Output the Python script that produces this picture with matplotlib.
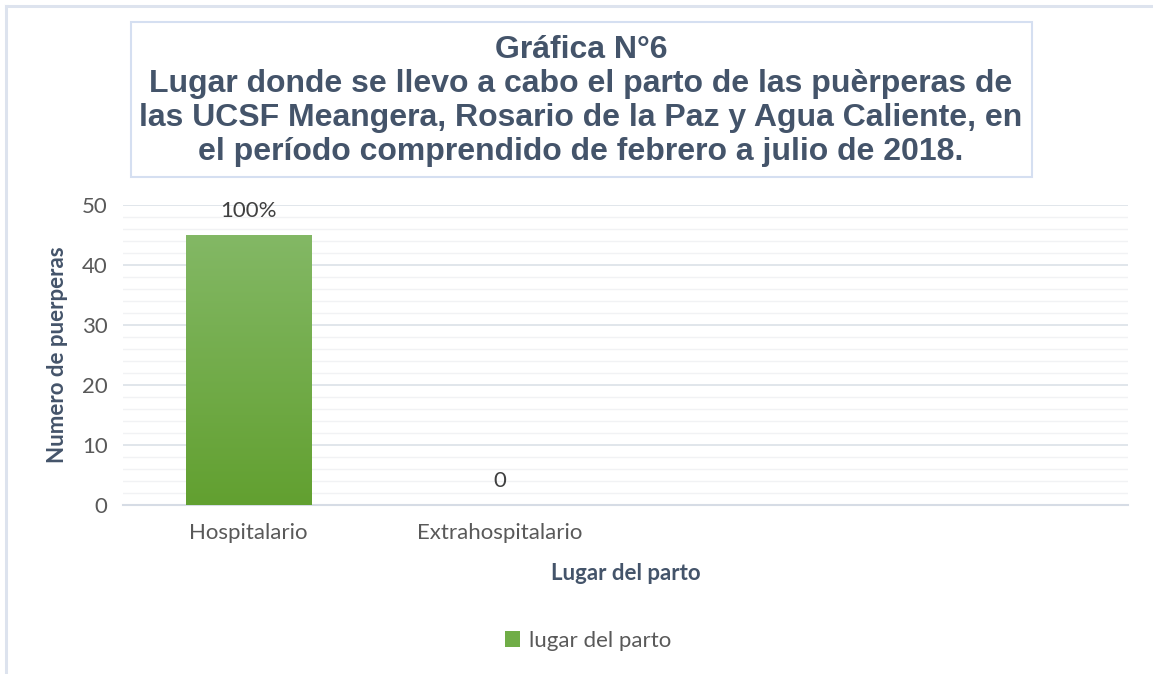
import matplotlib
matplotlib.use("Agg")
import matplotlib.pyplot as plt
from matplotlib.patches import Rectangle, Patch
from matplotlib.lines import Line2D
import numpy as np

# Data
categories = ["Hospitalario", "Extrahospitalario"]
values = [45, 0]
bar_labels = ["100%", "0"]
n_slots = 4
yticks = [0, 10, 20, 30, 40, 50]

title_text = ("Gráfica N°6\n"
              "Lugar donde se llevo a cabo el parto de las puèrperas de\n"
              "las UCSF Meangera, Rosario de la Paz y Agua Caliente, en\n"
              "el período comprendido de febrero a julio de 2018.")

W, H = 1153, 674
fig = plt.figure(figsize=(W / 100, H / 100), dpi=100)
font = "Lato"
fs = 16

# outer frame (top and left edges visible)
fig.add_artist(Line2D([6 / W, 1], [1 - 6 / H, 1 - 6 / H], color="#DDE3EE", lw=2.2))
fig.add_artist(Line2D([6 / W, 6 / W], [0, 1 - 6 / H], color="#DDE3EE", lw=2.2))

# title box
fig.add_artist(Rectangle((131 / W, 1 - 177 / H), (1032 - 131) / W, (177 - 22) / H,
                         transform=fig.transFigure, fill=False,
                         edgecolor="#D5DFF1", lw=1.5))
fig.text(581 / W, 1 - 101 / H, title_text, ha="center", va="center",
         family="Liberation Sans", fontweight="bold", fontsize=23.0,
         color="#44546A", linespacing=1.16)

ax = fig.add_axes([123 / W, 169 / H, (1128 - 123) / W, 300 / H])
x = np.arange(len(categories))
bars = ax.bar(x, values, width=0.5, color="#70AD47", zorder=3)

# vertical gradient on bars
grad = np.linspace(0, 1, 256).reshape(-1, 1)
cmap = matplotlib.colors.LinearSegmentedColormap.from_list("g", ["#62A030", "#83B865"])
for b in bars:
    if b.get_height() <= 0:
        continue
    im = ax.imshow(grad, cmap=cmap, origin="lower", aspect="auto", zorder=4,
                   extent=[b.get_x(), b.get_x() + b.get_width(), 0, b.get_height()])
    im.set_clip_path(b)

for b, lab in zip(bars, bar_labels):
    ax.annotate(lab, (b.get_x() + b.get_width() / 2, b.get_height()),
                xytext=(0, 10), textcoords="offset points", ha="center", va="bottom",
                family=font, fontsize=fs, color="#404040", zorder=5)

ax.set_xlim(-0.5, n_slots - 0.5)
ax.set_ylim(0, 50)
ax.set_yticks(yticks)
ax.set_yticks(np.arange(0, 51, 2), minor=True)
ax.set_xticks(x)
ax.set_xticklabels(categories)
ax.grid(axis="y", which="major", color="#DCE1E8", lw=1.2, zorder=0)
ax.grid(axis="y", which="minor", color="#F1F2F4", lw=1.0, zorder=0)
for s in ["top", "right", "left"]:
    ax.spines[s].set_visible(False)
ax.spines["bottom"].set_color("#D6DCE5")
ax.spines["bottom"].set_linewidth(1.5)
ax.tick_params(axis="both", which="both", length=0)
ax.tick_params(axis="y", pad=11)
ax.tick_params(axis="x", pad=13)
for t in ax.get_xticklabels() + ax.get_yticklabels():
    t.set_family(font)
    t.set_fontsize(fs)
    t.set_color("#595959")

ax.set_ylabel("Numero de puerperas", family=font, fontweight="bold",
              fontsize=fs, color="#44546A", labelpad=10)
ax.set_xlabel("Lugar del parto", family=font, fontweight="bold",
              fontsize=fs, color="#44546A", labelpad=14)

ax.legend(handles=[Patch(facecolor="#70AD47", label="lugar del parto")],
          loc="center", bbox_to_anchor=(588 / W, 1 - 641 / H),
          bbox_transform=fig.transFigure, frameon=False,
          prop={"family": font, "size": fs}, labelcolor="#595959",
          handlelength=0.7, handleheight=0.7, handletextpad=0.4)

fig.savefig("out.png", dpi=100)
